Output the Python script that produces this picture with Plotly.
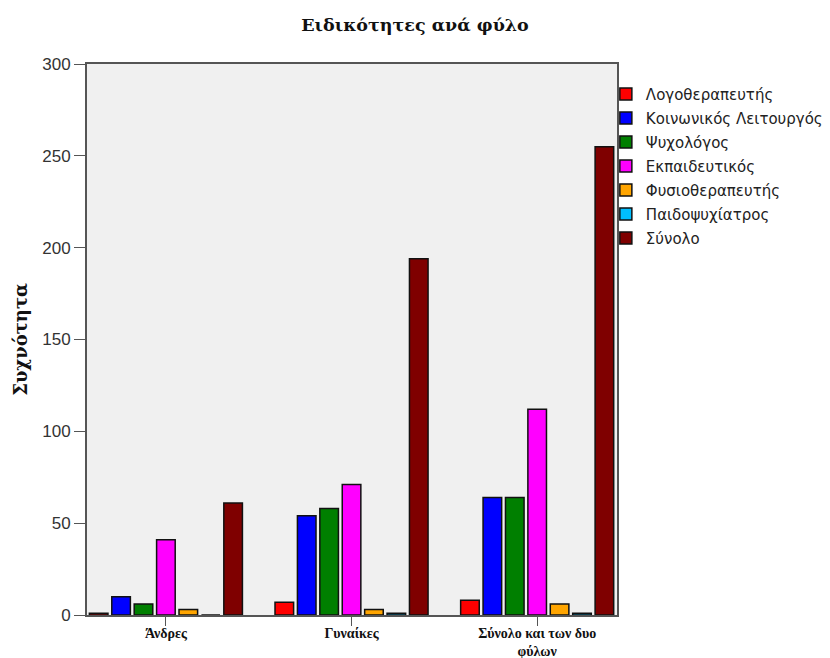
import plotly.graph_objects as go

categories = ["Άνδρες", "Γυναίκες", "Σύνολο και των δυο<br>φύλων"]
series_names = ["Λογοθεραπευτής", "Κοινωνικός Λειτουργός", "Ψυχολόγος",
                "Εκπαιδευτικός", "Φυσιοθεραπευτής", "Παιδοψυχίατρος", "Σύνολο"]
logotherapeftis = [1, 7, 8]
koinonikos = [10, 54, 64]
psychologos = [6, 58, 64]
ekpaideftikos = [41, 71, 112]
fysiotherapeftis = [3, 3, 6]
paidopsychiatros = [0, 1, 1]
synolo = [61, 194, 255]
series_values = [logotherapeftis, koinonikos, psychologos, ekpaideftikos,
                 fysiotherapeftis, paidopsychiatros, synolo]
colors = ["#ff0000", "#0000ff", "#007f00", "#ff00ff", "#ffa500", "#00bfff", "#7f0000"]
y_ticks = [0, 50, 100, 150, 200, 250, 300]

fig = go.Figure()
for name, vals, col in zip(series_names, series_values, colors):
    fig.add_trace(go.Bar(
        x=categories, y=vals, name=name, legendgroup=name,
        marker=dict(color=col, line=dict(color="#111111", width=1.5)),
    ))

fig.update_layout(
    width=830, height=658,
    margin=dict(l=87, r=213, t=64, b=43, autoexpand=False),
    paper_bgcolor="white",
    plot_bgcolor="#f0f0f0",
    barmode="group",
    bargap=0.155,
    bargroupgap=0.17,
    title=dict(text="<b>Ειδικότητες ανά φύλο</b>", x=0.5, xref="container", xanchor="center",
               y=1 - 25 / 658, yref="container", yanchor="middle",
               font=dict(family="DejaVu Serif", size=17.5, color="#111111")),
    legend=dict(x=0.979, xanchor="left", y=0.975, yanchor="top",
                font=dict(family="DejaVu Sans", size=15, color="#222222"),
                bgcolor="rgba(0,0,0,0)", tracegroupgap=1.5, traceorder="grouped"),
    xaxis=dict(range=[-0.425, 2.43], showline=True, linecolor="#555555", linewidth=2,
               mirror=True, ticks="outside", ticklen=9, tickcolor="#555555",
               ticklabelstandoff=-5,
               tickfont=dict(family="Liberation Serif", size=14, color="#111111",
                             weight="bold"),
               showgrid=False, automargin=False),
    yaxis=dict(range=[0, 300], tickvals=y_ticks, showline=True, linecolor="#555555",
               linewidth=2, mirror=True, ticks="outside", ticklen=11, tickcolor="#555555",
               tickfont=dict(family="Liberation Sans", size=17, color="#333333"),
               showgrid=False, zeroline=False, automargin=False,
               title=dict(text="<b>Συχνότητα</b>", standoff=10,
                          font=dict(family="DejaVu Serif", size=18, color="#111111"))),
)

fig.write_html("out.html", config={"displayModeBar": False},
               post_script="document.body.style.margin='0';")
